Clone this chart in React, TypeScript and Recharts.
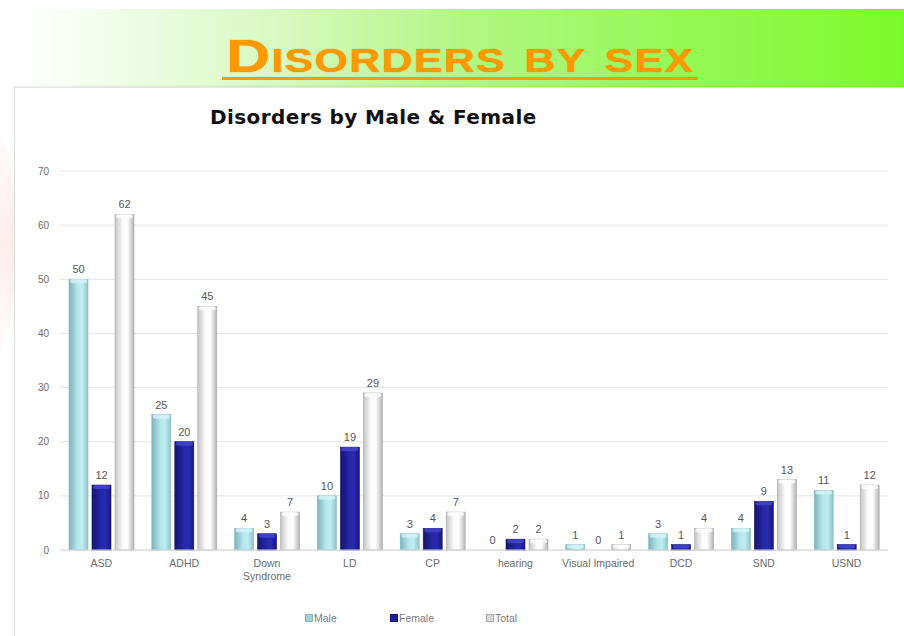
import React from "react"
import { BarChart, Bar, XAxis, YAxis, CartesianGrid, LabelList } from "recharts"

const categories = ["ASD", "ADHD", "Down Syndrome", "LD", "CP", "hearing", "Visual Impaired", "DCD", "SND", "USND"]
const maleValues = [50, 25, 4, 10, 3, 0, 1, 3, 4, 11]
const femaleValues = [12, 20, 3, 19, 4, 2, 0, 1, 9, 1]
const totalValues = [62, 45, 7, 29, 7, 2, 1, 4, 13, 12]
const yTicks = [0, 10, 20, 30, 40, 50, 60, 70]
const wrappedLabels: Record<string, string[]> = { "Down Syndrome": ["Down", "Syndrome"] }

const data = categories.map((name, i) => ({
  name,
  Male: maleValues[i],
  Female: femaleValues[i],
  Total: totalValues[i],
}))

const series = [
  { key: "Male", grad: "gMale", top: "#d8f6f8", edge: "#86b9bd", swatch: "#9fd3d8", legendX: 290 },
  { key: "Female", grad: "gFemale", top: "#4a4ad0", edge: "#14146e", swatch: "#1f1f9a", legendX: 375 },
  { key: "Total", grad: "gTotal", top: "#ffffff", edge: "#a8a8a8", swatch: "#d8d8d8", legendX: 471 },
]

const axisFont = "'Liberation Sans', Arial, sans-serif"

function makeShape(grad: string, top: string, edge: string) {
  return (props: any) => {
    const { x, y, width, height } = props
    if (!height || height <= 0) return <g />
    const cap = Math.min(4, height)
    return (
      <g>
        <rect x={x} y={y} width={width} height={height} fill={`url(#${grad})`} stroke={edge} strokeWidth={0.6} />
        <rect x={x + 1} y={y} width={width - 2} height={cap} fill={top} opacity={0.75} rx={2} />
      </g>
    )
  }
}

function ValueLabel(props: any) {
  const { x, y, width, value } = props
  return (
    <text x={x + width / 2} y={y - 6} textAnchor="middle" fill="#555555" fontSize={11} fontFamily={axisFont}>
      {value}
    </text>
  )
}

function XTick(props: any) {
  const { x, y, payload } = props
  const lines = wrappedLabels[payload.value] || [payload.value]
  return (
    <text x={x} y={y + 9} textAnchor="middle" fill="#6b6b6b" fontSize={10.5} fontFamily={axisFont}>
      {lines.map((l: string, i: number) => (
        <tspan key={i} x={x} dy={i === 0 ? 0 : 13}>{l}</tspan>
      ))}
    </text>
  )
}

export default function App() {
  return (
    <div style={{ position: "absolute", left: 0, top: 0, width: 904, height: 636, background: "#ffffff", overflow: "hidden" }}>
      {/* faint pink swoosh on the slide background */}
      <div style={{ position: "absolute", left: -30, top: 125, width: 46, height: 235, borderRadius: "50%", background: "linear-gradient(180deg, rgba(250,210,210,0.05), rgba(250,195,195,0.3), rgba(250,210,210,0.05))" }} />
      {/* banner */}
      <div style={{ position: "absolute", left: 24, top: 9, width: 880, height: 78, background: "linear-gradient(90deg, rgba(255,255,255,1) 0%, #eefce6 12%, #d6f9bd 30%, #b2f783 50%, #98f85a 72%, #7cfb2c 100%)" }} />
      <div style={{ position: "absolute", left: 200, top: 31, width: 520, textAlign: "center", fontFamily: "'Liberation Sans', Arial, sans-serif", fontWeight: 700, fontSize: 47, fontVariant: "small-caps", color: "#ff9900", lineHeight: "50px", textShadow: "0 0 1px #e08000" }}>
        <span style={{ display: "inline-block", transform: "scaleX(1.3)", letterSpacing: 1 }}>Disorders by sex</span>
      </div>
      <div style={{ position: "absolute", left: 222, top: 77, width: 476, height: 3, background: "#ff9900" }} />
      {/* chart panel */}
      <div style={{ position: "absolute", left: 14, top: 87, width: 890, height: 549, background: "#ffffff", borderLeft: "1px solid #dcdcdc", borderTop: "1px solid #e4e4e4", boxShadow: "0 -1px 2px rgba(0,0,0,0.08)" }}>
        <div style={{ position: "absolute", left: 195, top: 17, fontFamily: "'DejaVu Sans', sans-serif", fontWeight: 700, fontSize: 20, letterSpacing: 0.4, color: "#111" }}>
          Disorders by Male &amp; Female
        </div>
        <BarChart
          width={889}
          height={548}
          data={data}
          barSize={19}
          barGap={4}
          margin={{ top: 83, right: 16, left: 0, bottom: 46 }}
        >
          <defs>
            <linearGradient id="gMale" x1="0" y1="0" x2="1" y2="0">
              <stop offset="0%" stopColor="#7fb3b8" />
              <stop offset="45%" stopColor="#b4e6ea" />
              <stop offset="70%" stopColor="#bfeef1" />
              <stop offset="100%" stopColor="#8fc3c8" />
            </linearGradient>
            <linearGradient id="gFemale" x1="0" y1="0" x2="1" y2="0">
              <stop offset="0%" stopColor="#15156e" />
              <stop offset="45%" stopColor="#2626a8" />
              <stop offset="70%" stopColor="#2a2ab2" />
              <stop offset="100%" stopColor="#181880" />
            </linearGradient>
            <linearGradient id="gTotal" x1="0" y1="0" x2="1" y2="0">
              <stop offset="0%" stopColor="#c4c4c4" />
              <stop offset="40%" stopColor="#fbfbfb" />
              <stop offset="65%" stopColor="#ffffff" />
              <stop offset="100%" stopColor="#b4b4b4" />
            </linearGradient>
          </defs>
          <CartesianGrid vertical={false} stroke="#e4e4e4" />
          <XAxis
            dataKey="name"
            tick={<XTick />}
            tickLine={false}
            axisLine={{ stroke: "#d6d6d6" }}
            interval={0}
            height={40}
          />
          <YAxis
            domain={[0, 70]}
            ticks={yTicks}
            width={45}
            tickLine={false}
            axisLine={false}
            tickMargin={5}
            tick={{ fill: "#6b6b6b", fontSize: 10, fontFamily: axisFont }}
          />
          {series.map((s) => (
            <Bar key={s.key} dataKey={s.key} fill={s.swatch} isAnimationActive={false} shape={makeShape(s.grad, s.top, s.edge)}>
              <LabelList dataKey={s.key} content={<ValueLabel />} />
            </Bar>
          ))}
        </BarChart>
        {series.map((s) => (
          <div key={s.key} style={{ position: "absolute", left: s.legendX, top: 524, display: "flex", alignItems: "center", fontFamily: axisFont, fontSize: 10.5, color: "#7a7a7a" }}>
            <span style={{ display: "inline-block", width: 6, height: 6, background: s.swatch, border: `1px solid ${s.edge}`, marginRight: 1 }} />
            {s.key}
          </div>
        ))}
      </div>
    </div>
  )
}
